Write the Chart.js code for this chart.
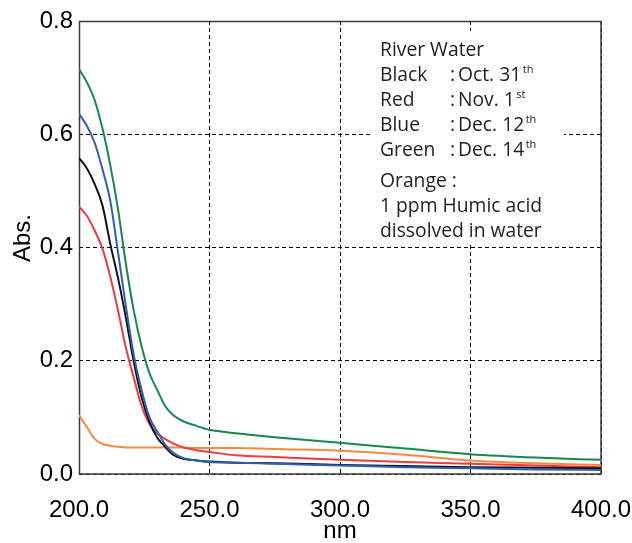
<!DOCTYPE html>
<html><head><meta charset="utf-8">
<script src="https://cdn.jsdelivr.net/npm/chart.js@4.4.1/dist/chart.umd.min.js"></script>
<style>
body{margin:0;background:#fff}
#wrap{position:relative;width:632px;height:543px}
</style></head>
<body><div id="wrap"><canvas id="c" width="632" height="543"></canvas></div>
<script>
// ---- data ----
const wavelengths = [200,203,206,209,212,215,218,221,224,227,230,233,236,240,245,250,260,275,300,325,350,375,400];
const blackOct31  = [0.558,0.540,0.512,0.474,0.406,0.345,0.275,0.198,0.135,0.092,0.064,0.048,0.034,0.027,0.024,0.022,0.020,0.019,0.016,0.014,0.012,0.011,0.010];
const redNov1     = [0.472,0.456,0.430,0.398,0.348,0.288,0.222,0.170,0.120,0.088,0.072,0.062,0.054,0.047,0.042,0.039,0.033,0.030,0.025,0.021,0.018,0.015,0.012];
const blueDec12   = [0.636,0.615,0.585,0.538,0.482,0.390,0.295,0.210,0.148,0.100,0.075,0.052,0.038,0.028,0.024,0.021,0.020,0.018,0.015,0.012,0.010,0.008,0.007];
const greenDec14  = [0.715,0.692,0.660,0.610,0.545,0.466,0.370,0.288,0.225,0.178,0.148,0.120,0.104,0.093,0.085,0.078,0.072,0.065,0.055,0.045,0.035,0.029,0.025];
const orangeHumic = [0.104,0.083,0.062,0.053,0.050,0.048,0.047,0.047,0.047,0.047,0.047,0.047,0.047,0.047,0.046,0.046,0.046,0.044,0.041,0.034,0.024,0.019,0.016];
const xTicks = [200,250,300,350,400];
const yTicks = [0.0,0.2,0.4,0.6,0.8];
const noteTitle = 'River Water';
const noteNames = ['Black','Red','Blue','Green'];
const noteDates = ['Oct. 31','Nov. 1','Dec. 12','Dec. 14'];
const noteSups  = ['th','st','th','th'];
const noteOrange = ['Orange :','1 ppm Humic acid','dissolved in water'];
const xTitle = 'nm';
const yTitle = 'Abs.';

const pts = arr => arr.map((v,i)=>({x:wavelengths[i], y:v}));
const ds = (label, arr, color) => ({label, data:pts(arr), borderColor:color, backgroundColor:color,
  borderWidth:2, pointRadius:0, fill:false, cubicInterpolationMode:'monotone'});

const boxPlugin = {
  id:'box',
  beforeDatasetsDraw(chart){
    const {ctx, chartArea:a} = chart;
    ctx.save();
    ctx.strokeStyle = '#3a3a3a';
    ctx.lineWidth = 1.5;
    ctx.strokeRect(a.left+0.5, a.top+0.5, a.right-a.left-0.5, a.bottom-a.top-0.5);
    ctx.restore();
  },
  afterDraw(chart){
    const {ctx} = chart;
    ctx.save();
    ctx.font = '24px "Liberation Sans", Arial, sans-serif';
    ctx.fillStyle = '#000';
    ctx.textAlign = 'center';
    ctx.textBaseline = 'middle';
    ctx.translate(23, 238);
    ctx.rotate(-Math.PI/2);
    ctx.fillText(yTitle, 0, 0);
    ctx.restore();

    ctx.save();
    ctx.fillStyle = '#fff';
    ctx.fillRect(370, 31, 194, 214);
    ctx.fillStyle = '#1f1f1f';
    ctx.textBaseline = 'alphabetic';
    ctx.textAlign = 'left';
    const f = '19.3px "Open Sans", sans-serif';
    const fs = '11px "Open Sans", sans-serif';
    ctx.font = f;
    const x0 = 380, xc = 450, xd = 458;
    ctx.fillText(noteTitle, x0, 55.5);
    const ys = [80.5,105.5,130.5,155.5];
    noteNames.forEach((n,i)=>{
      ctx.font = f;
      ctx.fillText(n, x0, ys[i]);
      ctx.fillText(':', xc, ys[i]);
      ctx.fillText(noteDates[i], xd, ys[i]);
      const w = ctx.measureText(noteDates[i]).width;
      ctx.font = fs;
      ctx.fillText(noteSups[i], xd + w + 1.5, ys[i]-7.5);
    });
    ctx.font = f;
    const ys2 = [187,212,237];
    noteOrange.forEach((t,i)=>ctx.fillText(t, x0, ys2[i]));
    ctx.restore();
  }
};

new Chart(document.getElementById('c'), {
  type:'line',
  data:{datasets:[
    ds('Blue : Dec. 12th', blueDec12, '#2f5fb5'),
    ds('Black : Oct. 31st', blackOct31, '#111111'),
    ds('Green : Dec. 14th', greenDec14, '#17884b'),
    ds('Red : Nov. 1st', redNov1, '#ef3b40'),
    ds('Orange : 1 ppm Humic acid', orangeHumic, '#f58a3f')
  ]},
  options:{
    responsive:false, animation:false,
    layout:{padding:{top:21,right:31,bottom:0,left:0}},
    plugins:{legend:{display:false}, tooltip:{enabled:false}},
    scales:{
      x:{type:'linear', min:200, max:400,
        afterBuildTicks:s=>{s.ticks = xTicks.map(v=>({value:v}));},
        afterFit:s=>{s.height = 69; s.paddingLeft = 0; s.paddingRight = 0;},
        border:{display:false, dash:[4,3]},
        grid:{color:'#000', lineWidth:1, drawTicks:false},
        ticks:{padding:22, maxRotation:0, autoSkip:false, color:'#000',
          font:{family:'"Liberation Sans", Arial, sans-serif', size:24},
          callback:v=>Number(v).toFixed(1)},
        title:{display:true, text:xTitle, color:'#000', padding:{top:0,bottom:-3},
          font:{family:'"Liberation Sans", Arial, sans-serif', size:24}}
      },
      y:{type:'linear', min:0, max:0.8,
        afterBuildTicks:s=>{s.ticks = yTicks.map(v=>({value:v}));},
        afterFit:s=>{s.width = 79; s.paddingTop = 0; s.paddingBottom = 0;},
        border:{display:false, dash:[4,3]},
        grid:{color:'#000', lineWidth:1, drawTicks:false},
        ticks:{padding:6, color:'#000',
          font:{family:'"Liberation Sans", Arial, sans-serif', size:24},
          callback:v=>Number(v).toFixed(1)}
      }
    }
  },
  plugins:[boxPlugin]
});
</script>
</body></html>
